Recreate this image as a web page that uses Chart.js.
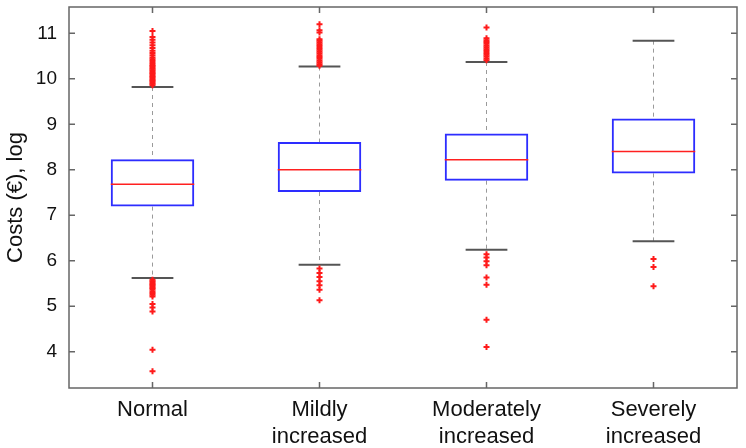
<!DOCTYPE html>
<html>
<head>
<meta charset="utf-8">
<script src="https://cdn.jsdelivr.net/npm/chart.js@4.4.1/dist/chart.umd.min.js"></script>
<style>
    html, body { margin: 0; padding: 0; background: #fff; }
    #wrap { width: 746px; height: 448px; }
</style>
</head>
<body>
<div id="wrap"><canvas id="boxChart"></canvas></div>
<script>
// Chart data
const categories = ['Normal', ['Mildly', 'increased'], ['Moderately', 'increased'], ['Severely', 'increased']];
const q1Values = [7.19, 7.51, 7.76, 7.92];
const q3Values = [8.23, 8.61, 8.80, 9.13];
const medianValues = [7.68, 8.00, 8.22, 8.40];
const whiskerLow = [5.62, 5.91, 6.24, 6.43];
const whiskerHigh = [9.82, 10.27, 10.37, 10.84];
const yTicks = [4, 5, 6, 7, 8, 9, 10, 11];

// Outliers per group
const outliersNormal = [9.86, 9.89, 9.92, 9.95, 9.98, 10.01, 10.04, 10.07, 10.10, 10.13, 10.16, 10.19,
    10.22, 10.25, 10.28, 10.31, 10.35, 10.39, 10.43, 10.47, 10.52, 10.57, 10.62, 10.68, 10.74, 10.80,
    10.86, 10.92, 11.05,
    5.58, 5.55, 5.52, 5.49, 5.46, 5.43, 5.40, 5.37, 5.33, 5.29, 5.25, 5.21, 5.05, 4.97, 4.88, 4.04, 3.57];
const outliersMildly = [11.20, 11.07, 11.02, 10.87, 10.84, 10.80, 10.76, 10.72, 10.68, 10.64, 10.60,
    10.56, 10.52, 10.48, 10.44, 10.40, 10.36, 10.32, 10.29,
    5.83, 5.73, 5.64, 5.55, 5.46, 5.36, 5.13];
const outliersModerately = [11.13, 10.89, 10.85, 10.81, 10.77, 10.73, 10.69, 10.65, 10.61, 10.57,
    10.53, 10.49, 10.45, 10.41,
    6.14, 6.07, 5.99, 5.90, 5.63, 5.47, 4.70, 4.10];
const outliersSeverely = [6.04, 5.86, 5.44];

const outlierGroups = [outliersNormal, outliersMildly, outliersModerately, outliersSeverely];

// Build chart datasets
const boxData = q1Values.map((q1, i) => ({ x: i + 1, y: [q1, q3Values[i]] }));
const outlierData = [];
outlierGroups.forEach((group, i) => {
    group.forEach(v => outlierData.push({ x: i + 1, y: v }));
});

// Whiskers, caps, medians and frame
const boxPlotPlugin = {
    id: 'boxPlotExtras',
    beforeDatasetsDraw(chart) {
        const ctx = chart.ctx;
        const xs = chart.scales.x;
        const ys = chart.scales.y;
        ctx.save();
        q1Values.forEach((q1, i) => {
            const cx = xs.getPixelForValue(i + 1);
            // dashed whiskers
            ctx.strokeStyle = '#9a9a9a';
            ctx.lineWidth = 1;
            ctx.setLineDash([4, 4]);
            ctx.beginPath();
            ctx.moveTo(cx, ys.getPixelForValue(whiskerHigh[i]));
            ctx.lineTo(cx, ys.getPixelForValue(q3Values[i]));
            ctx.moveTo(cx, ys.getPixelForValue(q1));
            ctx.lineTo(cx, ys.getPixelForValue(whiskerLow[i]));
            ctx.stroke();
            // caps
            ctx.setLineDash([]);
            ctx.strokeStyle = '#555555';
            ctx.lineWidth = 2;
            const x0 = xs.getPixelForValue(i + 1 - 0.125);
            const x1 = xs.getPixelForValue(i + 1 + 0.125);
            ctx.beginPath();
            [whiskerHigh[i], whiskerLow[i]].forEach(v => {
                const py = ys.getPixelForValue(v);
                ctx.moveTo(x0, py);
                ctx.lineTo(x1, py);
            });
            ctx.stroke();
        });
        ctx.restore();
    },
    afterDatasetsDraw(chart) {
        const ctx = chart.ctx;
        const xs = chart.scales.x;
        const ys = chart.scales.y;
        const area = chart.chartArea;
        ctx.save();
        // medians
        ctx.strokeStyle = '#ff2020';
        ctx.lineWidth = 1.5;
        medianValues.forEach((m, i) => {
            const py = ys.getPixelForValue(m);
            ctx.beginPath();
            ctx.moveTo(xs.getPixelForValue(i + 1 - 0.25), py);
            ctx.lineTo(xs.getPixelForValue(i + 1 + 0.25), py);
            ctx.stroke();
        });
        // frame with inward ticks
        ctx.strokeStyle = '#666666';
        ctx.lineWidth = 1.5;
        ctx.strokeRect(area.left, area.top, area.right - area.left, area.bottom - area.top);
        const len = 6;
        ctx.beginPath();
        yTicks.forEach(v => {
            const py = ys.getPixelForValue(v);
            ctx.moveTo(area.left, py);
            ctx.lineTo(area.left + len, py);
            ctx.moveTo(area.right, py);
            ctx.lineTo(area.right - len, py);
        });
        categories.forEach((c, i) => {
            const px = xs.getPixelForValue(i + 1);
            ctx.moveTo(px, area.bottom);
            ctx.lineTo(px, area.bottom - len);
            ctx.moveTo(px, area.top);
            ctx.lineTo(px, area.top + len);
        });
        ctx.stroke();
        ctx.restore();
    }
};

// Initialize Chart
const chartCtx = document.getElementById('boxChart');
new Chart(chartCtx, {
    data: {
        datasets: [
            {
                type: 'scatter',
                data: outlierData,
                pointStyle: 'cross',
                pointRadius: 3,
                pointBorderWidth: 2,
                borderColor: '#ff1a1a',
                backgroundColor: '#ff1a1a',
                order: 0
            },
            {
                type: 'bar',
                data: boxData,
                backgroundColor: 'rgba(255, 255, 255, 0)',
                borderColor: '#2d2dff',
                borderWidth: 2,
                borderSkipped: false,
                barPercentage: 0.5,
                categoryPercentage: 1,
                grouped: false,
                order: 1
            }
        ]
    },
    plugins: [boxPlotPlugin],
    options: {
        responsive: true,
        maintainAspectRatio: false,
        animation: false,
        layout: {
            padding: { left: 0, top: 7, right: 9, bottom: 0 }
        },
        plugins: {
            legend: { display: false },
            tooltip: { enabled: false }
        },
        scales: {
            x: {
                type: 'linear',
                min: 0.5,
                max: 4.5,
                offset: false,
                grid: { display: false, drawTicks: false },
                border: { display: false },
                afterBuildTicks: scale => {
                    scale.ticks = categories.map((c, i) => ({ value: i + 1 }));
                },
                afterFit: scale => {
                    scale.height = 60;
                    scale.paddingLeft = 0;
                    scale.paddingRight = 0;
                },
                ticks: {
                    padding: 9,
                    color: '#111',
                    font: { family: 'Liberation Sans, Arial', size: 22 },
                    callback: value => categories[value - 1]
                }
            },
            y: {
                min: 3.2,
                max: 11.58,
                grid: { display: false, drawTicks: false },
                border: { display: false },
                afterBuildTicks: scale => {
                    scale.ticks = yTicks.map(v => ({ value: v }));
                },
                afterFit: scale => {
                    scale.width = 69;
                    scale.paddingTop = 0;
                    scale.paddingBottom = 0;
                },
                ticks: {
                    padding: 12,
                    color: '#111',
                    font: { family: 'Liberation Sans, Arial', size: 19 }
                },
                title: {
                    display: true,
                    text: 'Costs (€), log',
                    color: '#111',
                    font: { family: 'Liberation Sans, Arial', size: 22 },
                    padding: { top: 3, bottom: 0 }
                }
            }
        }
    }
});
</script>
</body>
</html>
